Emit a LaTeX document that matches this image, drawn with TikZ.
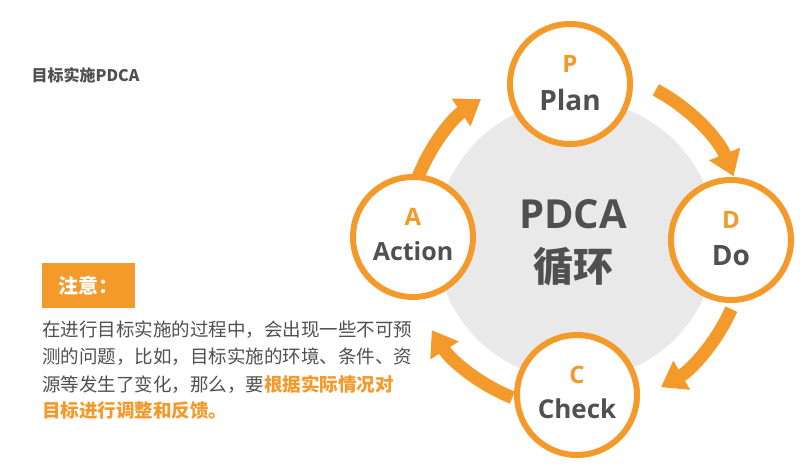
\documentclass[tikz,border=0pt]{standalone}
\usepackage{fontspec}
\setmainfont{Open Sans}
\newfontfamily\cjk{Noto Sans CJK SC}
\usetikzlibrary{arrows.meta,calc}
\definecolor{org}{HTML}{F39A2B}
\definecolor{txt}{HTML}{505050}
\definecolor{gry}{HTML}{E9E9EA}
\tikzset{
 stage/.style={circle,draw=org,line width=6pt,fill=white,minimum size=120pt,inner sep=0pt},
 letter/.style={text=org,font=\bfseries\fontsize{24}{26}\selectfont,inner sep=0pt},
 word/.style={text=txt,font=\bfseries\fontsize{28}{30}\selectfont,inner sep=0pt},
 flow/.style={draw=org,line width=13pt,-{Triangle[width=32pt,length=24pt]}},
}
\begin{document}
\begin{tikzpicture}[x=1pt,y=1pt]
\useasboundingbox (0,0) rectangle (812,467);
\fill[white] (0,0) rectangle (812,467);
\coordinate (ctr) at (576,227);
\fill[gry] (ctr) circle (140);
% arrows
\draw[flow] ($(ctr)+(160:170)$) arc (160:124:170);
\draw[flow] ($(ctr)+(62:170)$) arc (62:22:170);
\draw[flow] ($(ctr)+(-24:170)$) arc (-24:-60:170);
\draw[flow] ($(ctr)+(-112:170)$) arc (-112:-148:170);
\node[stage] (p) at (570,383) {};
\node[stage] (d) at (731,227) {};
\node[stage] (c) at (577,72) {};
\node[stage] (a) at (413,230) {};
\node[letter] (pl) at ($(p)+(0,20)$) {P};
\node[word] (pw) at ($(p)+(0,-16)$) {Plan};
\node[letter] (dl) at ($(d)+(0,20)$) {D};
\node[word] (dw) at ($(d)+(0,-16)$) {Do};
\node[letter] (cl) at ($(c)+(0,20)$) {C};
\node[word,font=\bfseries\fontsize{26}{28}\selectfont] (cw) at ($(c)+(0,-14)$) {Check};
\node[letter] (al) at ($(a)+(0,20)$) {A};
\node[word,font=\bfseries\fontsize{25}{28}\selectfont] (aw) at ($(a)+(0,-14)$) {Action};
\node[text=txt,font=\bfseries\fontsize{40}{46}\selectfont] (m1) at (573,253) {PDCA};
\node[text=txt,font=\cjk\bfseries\fontsize{40}{46}\selectfont] (m2) at (573,200) {循环};
\node[anchor=west,text=txt,font=\cjk\bfseries\fontsize{16}{18}\selectfont] (title) at (28,392) {目标实施PDCA};
\node[fill=org,anchor=north west,minimum width=93pt,minimum height=45pt,text=white,font=\cjk\bfseries\fontsize{20}{24}\selectfont] (note) at (42,204) {注意：};
\begin{scope}[every node/.style={anchor=west,text=txt,font=\cjk\fontsize{18.5}{20}\selectfont,inner sep=0pt}]
\node (l1) at (42,137) {在进行目标实施的过程中，会出现一些不可预};
\node (l2) at (42,110) {测的问题，比如，目标实施的环境、条件、资};
\node (l3) at (42,83) {源等发生了变化，那么，要{\color{org}\bfseries 根据实际情况对}};
\node (l4) at (42,56) {\color{org}\bfseries 目标进行调整和反馈。};
\end{scope}
\end{tikzpicture}
\end{document}
